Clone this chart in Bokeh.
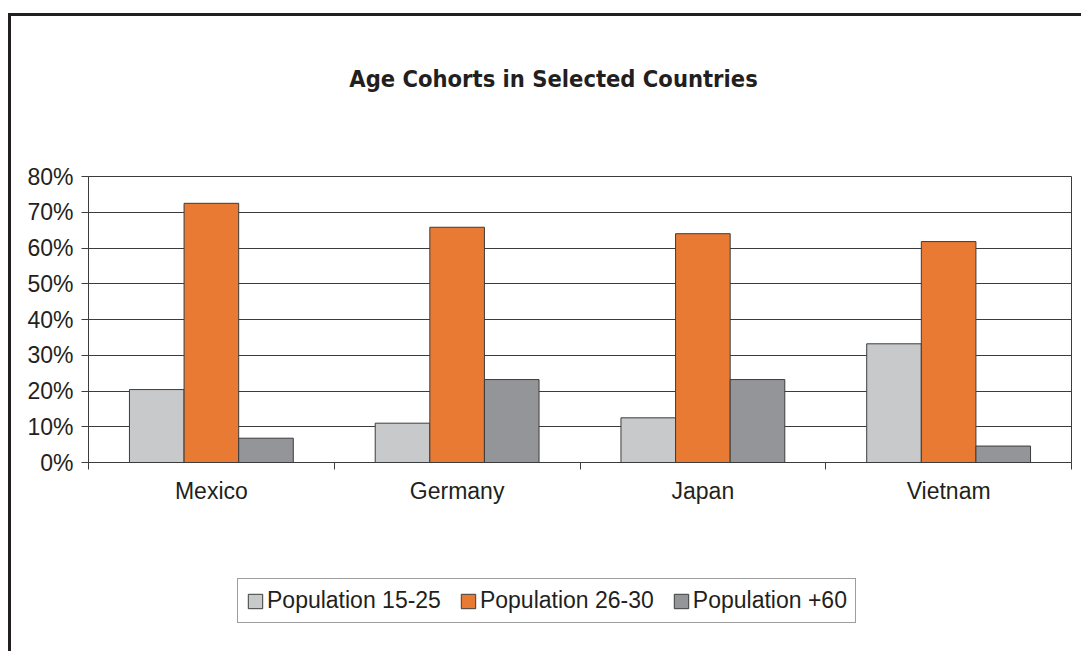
from bokeh.plotting import figure
from bokeh.layouts import column
from bokeh.models import (ColumnDataSource, Range1d, FixedTicker, NumeralTickFormatter,
                          Legend, LegendItem, Label)
from bokeh.transform import dodge
from bokeh.embed import file_html
from bokeh.resources import INLINE

countries = ["Mexico", "Germany", "Japan", "Vietnam"]
pop_15_25 = [0.204, 0.110, 0.125, 0.332]
pop_26_30 = [0.725, 0.658, 0.640, 0.618]
pop_60 = [0.068, 0.232, 0.232, 0.046]
series_names = ["Population 15-25", "Population 26-30", "Population +60"]
y_ticks = [0.0, 0.1, 0.2, 0.3, 0.4, 0.5, 0.6, 0.7, 0.8]
chart_title = "Age Cohorts in Selected Countries"

centers = [i + 0.5 for i in range(len(countries))]
src = ColumnDataSource(dict(x=centers, a=pop_15_25, b=pop_26_30, c=pop_60))

DARK = "#231f20"
LINE = "#3c3c3c"
colors = ["#c8c9cb", "#e97a33", "#949598"]
FONT = "Liberation Sans"
FS = "23px"
W = 1070


def blank(height, y_range=(0, 1)):
    f = figure(width=W, height=height, output_backend="svg", toolbar_location=None,
               x_range=Range1d(0, len(countries)), y_range=Range1d(*y_range), min_border=0,
               x_axis_type=None, y_axis_type=None, outline_line_color=None,
               background_fill_color="white", border_fill_color="white")
    f.grid.visible = False
    return f


# ---- title strip
t = blank(124)
t.add_layout(Label(x=465, y=62, x_units="screen", y_units="screen", text=chart_title,
                   text_align="center", text_baseline="alphabetic",
                   text_font="DejaVu Sans Condensed", text_font_style="bold",
                   text_font_size="23.5px", text_color=DARK))

# ---- main chart
p = figure(width=W, height=400, output_backend="svg", toolbar_location=None,
           x_range=Range1d(0, len(countries)), y_range=Range1d(0, 0.8),
           min_border_left=77, min_border_right=10, min_border_top=36, min_border_bottom=78,
           background_fill_color="white", border_fill_color="white")

bw = 0.2222
for col, off, color in zip(["a", "b", "c"], [-bw, 0.0, bw], colors):
    p.vbar(x=dodge("x", off, range=p.x_range), top=col, width=bw, source=src,
           fill_color=color, line_color=LINE, line_width=1)

p.xaxis.ticker = FixedTicker(ticks=centers, minor_ticks=list(range(len(countries) + 1)))
p.xaxis.major_label_overrides = {c: n for c, n in zip(centers, countries)}
p.xaxis.major_tick_out = 0
p.xaxis.major_tick_in = 0
p.xaxis.minor_tick_out = 7
p.xaxis.minor_tick_in = 0
p.xaxis.minor_tick_line_color = LINE
p.xaxis.axis_line_color = LINE
p.xaxis.major_label_standoff = 8
p.xaxis.major_label_text_font = FONT
p.xaxis.major_label_text_font_size = FS
p.xaxis.major_label_text_color = DARK

p.yaxis.ticker = FixedTicker(ticks=y_ticks)
p.yaxis.formatter = NumeralTickFormatter(format="0%")
p.yaxis.major_tick_out = 7
p.yaxis.major_tick_in = 0
p.yaxis.minor_tick_line_color = None
p.yaxis.major_tick_line_color = LINE
p.yaxis.axis_line_color = LINE
p.yaxis.major_label_standoff = 8
p.yaxis.major_label_text_font = FONT
p.yaxis.major_label_text_font_size = FS
p.yaxis.major_label_text_color = DARK

p.xgrid.grid_line_color = None
p.ygrid.grid_line_color = LINE
p.ygrid.grid_line_width = 1
p.outline_line_color = LINE
p.outline_line_width = 1

# ---- legend strip (swatch glyphs reuse the data but sit outside this strip's range)
lg = blank(111, y_range=(1, 2))
swatches = [lg.vbar(x="x", top=col, width=bw, source=src, fill_color=c,
                    line_color=LINE, line_width=1)
            for col, c in zip(["a", "b", "c"], colors)]
legend = Legend(items=[LegendItem(label=n, renderers=[r]) for n, r in zip(series_names, swatches)],
                orientation="horizontal", location=(149, 28),
                glyph_width=18, glyph_height=18, label_standoff=3, spacing=18,
                padding=8, margin=0,
                label_text_font=FONT, label_text_font_size=FS,
                label_text_color=DARK, border_line_color=LINE, border_line_width=1,
                background_fill_color="white", background_fill_alpha=1.0)
lg.add_layout(legend, "center")

layout = column(t, p, lg, spacing=0,
                styles={"border-left": "3px solid #231f20", "border-top": "3px solid #231f20",
                        "margin-top": "13px", "margin-left": "8px"})

open("out.html", "w").write(file_html(layout, INLINE))
